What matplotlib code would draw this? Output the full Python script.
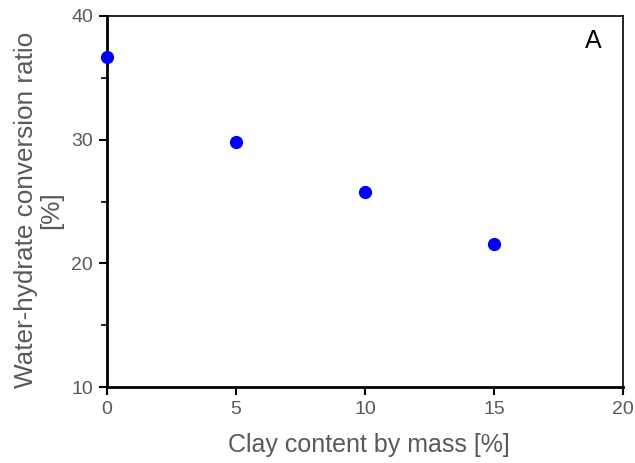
import matplotlib.pyplot as plt
from matplotlib.ticker import MultipleLocator

# Data
clay_content = [0, 5, 10, 15]
conversion_ratio = [36.7, 29.8, 25.8, 21.6]

plt.rcParams['font.family'] = ['Liberation Sans', 'DejaVu Sans']

fig = plt.figure(figsize=(6.35, 4.63), dpi=100)
ax = fig.add_axes([107 / 635, 1 - 387 / 463, (623 - 107) / 635, (387 - 16) / 463])

ax.plot(clay_content, conversion_ratio, 'o', color='#0000FF', markersize=8.5, clip_on=False, zorder=5)

ax.set_xlim(0, 20)
ax.set_ylim(10, 40)
ax.xaxis.set_major_locator(MultipleLocator(5))
ax.yaxis.set_major_locator(MultipleLocator(10))
ax.yaxis.set_minor_locator(MultipleLocator(5))

gray = '#595959'
ax.tick_params(axis='both', which='major', direction='out', length=6, width=1.5,
               labelsize=14, labelcolor=gray, pad=4)
ax.tick_params(axis='y', which='minor', direction='out', length=4, width=1.2)

ax.spines['left'].set_linewidth(2)
ax.spines['bottom'].set_linewidth(2)
ax.spines['top'].set_linewidth(1.2)
ax.spines['right'].set_linewidth(1.2)

ax.set_xlabel('Clay content by mass [%]', fontsize=18, color=gray)
ax.set_ylabel('Water-hydrate conversion ratio\n[%]', fontsize=18.8, color=gray, linespacing=1.05)
ax.xaxis.set_label_coords(0.508, -0.125)
ax.yaxis.set_label_coords(-0.085, 0.477)

ax.text(0.942, 0.933, 'A', transform=ax.transAxes, fontsize=18, ha='center', va='center', color='black')

fig.savefig('out.png', dpi=100)
